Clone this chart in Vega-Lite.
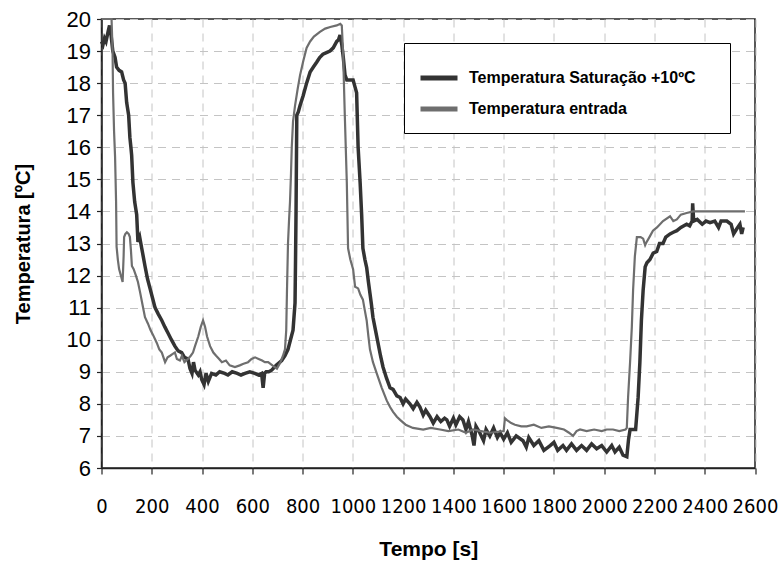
{
  "$schema": "https://vega.github.io/schema/vega-lite/v6.json",
  "width": 653.5,
  "height": 449,
  "autosize": {"type": "none"},
  "padding": {"left": 101.5, "top": 19, "right": 27, "bottom": 97},
  "background": "white",
  "config": {
    "view": {"stroke": "#222222", "strokeWidth": 1.5},
    "font": "Liberation Sans"
  },
  "datasets": {
    "sat": [
      {"t":0,"v":19.3},{"t":6,"v":19.2},{"t":12,"v":19.4},{"t":18,"v":19.3},{"t":26,"v":19.6},{"t":32,"v":19.8},{"t":38,"v":19.5},{"t":45,"v":19.0},{"t":54,"v":18.8},{"t":60,"v":18.5},{"t":70,"v":18.4},{"t":80,"v":18.35},{"t":88,"v":18.1},{"t":94,"v":18.0},{"t":100,"v":17.4},{"t":108,"v":17.0},{"t":113,"v":16.3},{"t":117,"v":16.0},{"t":120,"v":15.75},{"t":125,"v":14.9},{"t":132,"v":14.3},{"t":140,"v":13.9},{"t":145,"v":13.05},{"t":152,"v":13.2},{"t":160,"v":12.85},{"t":166,"v":12.6},{"t":173,"v":12.3},{"t":183,"v":11.9},{"t":193,"v":11.6},{"t":203,"v":11.3},{"t":213,"v":11.0},{"t":226,"v":10.8},{"t":240,"v":10.6},{"t":252,"v":10.4},{"t":265,"v":10.2},{"t":278,"v":10.0},{"t":292,"v":9.8},{"t":305,"v":9.65},{"t":319,"v":9.6},{"t":330,"v":9.45},{"t":344,"v":9.4},{"t":352,"v":9.1},{"t":360,"v":8.95},{"t":366,"v":9.3},{"t":372,"v":9.05},{"t":385,"v":8.9},{"t":392,"v":9.0},{"t":399,"v":8.75},{"t":408,"v":8.6},{"t":416,"v":8.95},{"t":425,"v":8.7},{"t":438,"v":8.95},{"t":455,"v":8.9},{"t":470,"v":9.0},{"t":490,"v":8.95},{"t":503,"v":8.9},{"t":520,"v":9.0},{"t":540,"v":8.95},{"t":555,"v":8.9},{"t":571,"v":8.95},{"t":590,"v":9.0},{"t":610,"v":8.95},{"t":625,"v":8.9},{"t":637,"v":8.95},{"t":643,"v":8.5},{"t":649,"v":8.95},{"t":655,"v":9.0},{"t":665,"v":9.0},{"t":677,"v":9.05},{"t":695,"v":9.2},{"t":717,"v":9.35},{"t":730,"v":9.5},{"t":742,"v":9.7},{"t":752,"v":10.0},{"t":762,"v":10.3},{"t":770,"v":11.15},{"t":772,"v":12.5},{"t":774,"v":14.0},{"t":777,"v":17.0},{"t":783,"v":17.1},{"t":790,"v":17.3},{"t":802,"v":17.6},{"t":816,"v":18.0},{"t":830,"v":18.35},{"t":843,"v":18.5},{"t":856,"v":18.65},{"t":868,"v":18.8},{"t":881,"v":18.9},{"t":895,"v":18.95},{"t":909,"v":19.0},{"t":922,"v":19.1},{"t":936,"v":19.3},{"t":943,"v":19.35},{"t":949,"v":19.5},{"t":956,"v":19.2},{"t":962,"v":18.8},{"t":969,"v":18.25},{"t":976,"v":18.1},{"t":990,"v":18.1},{"t":1001,"v":18.1},{"t":1008,"v":17.9},{"t":1015,"v":17.7},{"t":1021,"v":16.0},{"t":1029,"v":14.9},{"t":1035,"v":13.9},{"t":1040,"v":12.85},{"t":1048,"v":12.5},{"t":1055,"v":12.25},{"t":1062,"v":11.8},{"t":1068,"v":11.45},{"t":1074,"v":11.1},{"t":1080,"v":10.7},{"t":1090,"v":10.3},{"t":1100,"v":9.9},{"t":1110,"v":9.5},{"t":1120,"v":9.15},{"t":1134,"v":8.8},{"t":1148,"v":8.5},{"t":1160,"v":8.45},{"t":1175,"v":8.25},{"t":1188,"v":8.2},{"t":1200,"v":8.0},{"t":1210,"v":8.15},{"t":1227,"v":8.0},{"t":1240,"v":7.85},{"t":1255,"v":8.05},{"t":1267,"v":7.9},{"t":1280,"v":7.65},{"t":1290,"v":7.8},{"t":1307,"v":7.6},{"t":1320,"v":7.4},{"t":1335,"v":7.6},{"t":1350,"v":7.45},{"t":1365,"v":7.55},{"t":1374,"v":7.5},{"t":1385,"v":7.3},{"t":1400,"v":7.55},{"t":1410,"v":7.35},{"t":1425,"v":7.6},{"t":1438,"v":7.5},{"t":1450,"v":7.2},{"t":1460,"v":7.45},{"t":1475,"v":7.0},{"t":1482,"v":6.7},{"t":1490,"v":7.3},{"t":1505,"v":7.1},{"t":1520,"v":6.85},{"t":1530,"v":7.2},{"t":1545,"v":7.0},{"t":1560,"v":7.25},{"t":1575,"v":6.95},{"t":1586,"v":7.1},{"t":1600,"v":6.9},{"t":1615,"v":7.1},{"t":1630,"v":6.8},{"t":1650,"v":7.0},{"t":1677,"v":6.85},{"t":1690,"v":6.65},{"t":1700,"v":6.95},{"t":1720,"v":6.7},{"t":1740,"v":6.85},{"t":1760,"v":6.55},{"t":1785,"v":6.7},{"t":1800,"v":6.8},{"t":1815,"v":6.55},{"t":1836,"v":6.7},{"t":1850,"v":6.55},{"t":1870,"v":6.75},{"t":1890,"v":6.55},{"t":1910,"v":6.7},{"t":1930,"v":6.55},{"t":1950,"v":6.75},{"t":1970,"v":6.6},{"t":1990,"v":6.7},{"t":2010,"v":6.5},{"t":2030,"v":6.7},{"t":2043,"v":6.5},{"t":2060,"v":6.65},{"t":2075,"v":6.4},{"t":2090,"v":6.35},{"t":2097,"v":6.9},{"t":2103,"v":7.2},{"t":2125,"v":7.2},{"t":2135,"v":8.2},{"t":2142,"v":9.3},{"t":2148,"v":10.6},{"t":2155,"v":11.55},{"t":2163,"v":12.27},{"t":2170,"v":12.4},{"t":2182,"v":12.5},{"t":2195,"v":12.7},{"t":2209,"v":12.75},{"t":2220,"v":13.0},{"t":2234,"v":13.0},{"t":2245,"v":13.2},{"t":2262,"v":13.3},{"t":2275,"v":13.35},{"t":2289,"v":13.4},{"t":2305,"v":13.5},{"t":2328,"v":13.6},{"t":2340,"v":13.55},{"t":2350,"v":13.7},{"t":2352,"v":14.25},{"t":2356,"v":13.7},{"t":2370,"v":13.75},{"t":2390,"v":13.6},{"t":2405,"v":13.7},{"t":2421,"v":13.65},{"t":2440,"v":13.7},{"t":2455,"v":13.5},{"t":2465,"v":13.7},{"t":2488,"v":13.7},{"t":2505,"v":13.6},{"t":2515,"v":13.3},{"t":2527,"v":13.45},{"t":2540,"v":13.6},{"t":2547,"v":13.3},{"t":2553,"v":13.5}
    ],
    "ent": [
      {"t":0,"v":20.0},{"t":20,"v":20.0},{"t":40,"v":20.0},{"t":44,"v":19.0},{"t":46,"v":17.7},{"t":50,"v":16.5},{"t":54,"v":15.7},{"t":58,"v":14.3},{"t":60,"v":12.9},{"t":65,"v":12.5},{"t":70,"v":12.2},{"t":77,"v":12.0},{"t":84,"v":11.8},{"t":86,"v":12.2},{"t":88,"v":12.6},{"t":90,"v":13.2},{"t":95,"v":13.3},{"t":101,"v":13.35},{"t":108,"v":13.3},{"t":113,"v":13.2},{"t":117,"v":12.8},{"t":121,"v":12.3},{"t":128,"v":12.2},{"t":137,"v":12.0},{"t":145,"v":11.8},{"t":153,"v":11.5},{"t":163,"v":11.1},{"t":173,"v":10.7},{"t":185,"v":10.5},{"t":195,"v":10.3},{"t":205,"v":10.15},{"t":220,"v":9.9},{"t":230,"v":9.7},{"t":240,"v":9.6},{"t":253,"v":9.3},{"t":263,"v":9.45},{"t":273,"v":9.5},{"t":282,"v":9.55},{"t":292,"v":9.6},{"t":300,"v":9.4},{"t":312,"v":9.35},{"t":320,"v":9.5},{"t":330,"v":9.3},{"t":344,"v":9.4},{"t":355,"v":9.5},{"t":364,"v":9.6},{"t":372,"v":9.8},{"t":385,"v":10.1},{"t":395,"v":10.4},{"t":404,"v":10.6},{"t":412,"v":10.4},{"t":420,"v":10.1},{"t":432,"v":9.8},{"t":445,"v":9.6},{"t":456,"v":9.5},{"t":468,"v":9.4},{"t":479,"v":9.3},{"t":495,"v":9.35},{"t":510,"v":9.2},{"t":531,"v":9.15},{"t":550,"v":9.2},{"t":565,"v":9.25},{"t":583,"v":9.3},{"t":597,"v":9.4},{"t":611,"v":9.45},{"t":625,"v":9.4},{"t":639,"v":9.35},{"t":650,"v":9.3},{"t":663,"v":9.3},{"t":680,"v":9.2},{"t":698,"v":9.1},{"t":712,"v":9.3},{"t":722,"v":9.5},{"t":730,"v":9.7},{"t":735,"v":10.3},{"t":738,"v":11.55},{"t":742,"v":13.0},{"t":746,"v":13.7},{"t":750,"v":14.3},{"t":754,"v":15.2},{"t":757,"v":16.0},{"t":762,"v":16.8},{"t":770,"v":17.3},{"t":780,"v":17.8},{"t":790,"v":18.25},{"t":803,"v":18.7},{"t":816,"v":19.1},{"t":830,"v":19.3},{"t":845,"v":19.45},{"t":869,"v":19.6},{"t":890,"v":19.7},{"t":910,"v":19.75},{"t":936,"v":19.8},{"t":950,"v":19.85},{"t":956,"v":19.8},{"t":961,"v":19.0},{"t":968,"v":17.0},{"t":976,"v":14.9},{"t":981,"v":12.85},{"t":990,"v":12.5},{"t":1001,"v":12.2},{"t":1009,"v":11.65},{"t":1021,"v":11.6},{"t":1030,"v":11.4},{"t":1040,"v":11.25},{"t":1048,"v":10.9},{"t":1055,"v":10.6},{"t":1062,"v":10.1},{"t":1068,"v":9.7},{"t":1080,"v":9.3},{"t":1095,"v":8.95},{"t":1115,"v":8.5},{"t":1135,"v":8.1},{"t":1148,"v":7.9},{"t":1160,"v":7.75},{"t":1175,"v":7.6},{"t":1188,"v":7.5},{"t":1210,"v":7.35},{"t":1239,"v":7.25},{"t":1280,"v":7.2},{"t":1310,"v":7.25},{"t":1347,"v":7.2},{"t":1380,"v":7.15},{"t":1420,"v":7.2},{"t":1450,"v":7.1},{"t":1478,"v":7.2},{"t":1510,"v":7.15},{"t":1546,"v":7.1},{"t":1600,"v":7.15},{"t":1605,"v":7.55},{"t":1612,"v":7.5},{"t":1630,"v":7.4},{"t":1645,"v":7.35},{"t":1670,"v":7.3},{"t":1692,"v":7.3},{"t":1720,"v":7.35},{"t":1750,"v":7.25},{"t":1780,"v":7.3},{"t":1811,"v":7.25},{"t":1840,"v":7.2},{"t":1860,"v":7.1},{"t":1876,"v":7.0},{"t":1890,"v":7.15},{"t":1904,"v":7.2},{"t":1930,"v":7.15},{"t":1960,"v":7.2},{"t":1990,"v":7.15},{"t":2010,"v":7.2},{"t":2035,"v":7.2},{"t":2060,"v":7.15},{"t":2085,"v":7.2},{"t":2090,"v":7.25},{"t":2095,"v":8.2},{"t":2103,"v":9.3},{"t":2110,"v":10.4},{"t":2115,"v":11.55},{"t":2122,"v":12.6},{"t":2130,"v":13.2},{"t":2145,"v":13.2},{"t":2155,"v":13.15},{"t":2163,"v":12.95},{"t":2169,"v":13.05},{"t":2180,"v":13.2},{"t":2194,"v":13.4},{"t":2210,"v":13.5},{"t":2234,"v":13.7},{"t":2262,"v":13.85},{"t":2275,"v":13.7},{"t":2289,"v":13.75},{"t":2305,"v":13.9},{"t":2328,"v":13.95},{"t":2354,"v":14.0},{"t":2400,"v":14.0},{"t":2450,"v":14.0},{"t":2500,"v":14.0},{"t":2560,"v":14.0}
    ]
  },
  "encoding": {
    "x": {
      "field": "t", "type": "quantitative", "title": "Tempo [s]",
      "scale": {"domain": [0, 2600], "nice": false},
      "axis": {
        "values": [0,200,400,600,800,1000,1200,1400,1600,1800,2000,2200,2400,2600],
        "format": "d",
        "grid": true, "gridDash": [8, 6], "gridColor": "#c4c4c4", "gridWidth": 1,
        "domainColor": "#222222", "domainWidth": 1.5, "tickColor": "#222222", "tickSize": 6, "tickWidth": 1.2,
        "labelFont": "'DejaVu Sans Condensed', 'Liberation Sans', sans-serif", "labelFontSize": 20, "labelColor": "black", "labelPadding": 22,
        "labelOverlap": false, "labelFlush": false,
        "titleFont": "Liberation Sans", "titleFontSize": 21, "titleFontWeight": "bold", "titleColor": "black",
        "titleY": 87, "titleBaseline": "alphabetic"
      }
    },
    "y": {
      "field": "v", "type": "quantitative", "title": "Temperatura [ºC]",
      "scale": {"domain": [6, 20], "nice": false, "zero": false},
      "axis": {
        "values": [6,7,8,9,10,11,12,13,14,15,16,17,18,19,20],
        "grid": true, "gridDash": [8, 6], "gridColor": "#c4c4c4", "gridWidth": 1,
        "domainColor": "#222222", "domainWidth": 1.5, "tickColor": "#222222", "tickSize": 5, "tickWidth": 1.2,
        "labelFont": "Liberation Sans", "labelFontSize": 22, "labelColor": "black", "labelPadding": 6,
        "labelOverlap": false, "labelFlush": false,
        "titleFont": "Liberation Sans", "titleFontSize": 20, "titleFontWeight": "bold", "titleColor": "black",
        "titleX": -72.5, "titleY": 224.5, "titleAngle": -90, "titleAlign": "center", "titleBaseline": "alphabetic"
      }
    }
  },
  "layer": [
    {
      "data": {"name": "sat"},
      "mark": {"type": "line", "strokeWidth": 3.5, "strokeJoin": "miter"},
      "encoding": {
        "color": {
          "datum": "Temperatura Saturação +10ºC", "type": "nominal",
          "scale": {"domain": ["Temperatura Saturação +10ºC", "Temperatura entrada"], "range": ["#333333", "#6e6e6e"]},
          "legend": {
            "orient": "none", "legendX": 302.5, "legendY": 24,
            "title": "\u00a0\u00a0\u00a0\u00a0\u00a0\u00a0\u00a0\u00a0\u00a0\u00a0", "titleOrient": "right", "titlePadding": 20, "titleFontSize": 16,
            "symbolType": "stroke", "symbolSize": 1369, "symbolStrokeWidth": 5,
            "labelFont": "Liberation Sans", "labelFontSize": 16, "labelFontWeight": "bold", "labelColor": "black",
            "labelOffset": 9, "labelLimit": 400,
            "strokeColor": "black", "fillColor": "white", "padding": 14, "rowPadding": 0
          }
        }
      }
    },
    {
      "data": {"name": "ent"},
      "mark": {"type": "line", "strokeWidth": 2.2},
      "encoding": {
        "color": {"datum": "Temperatura entrada", "type": "nominal"}
      }
    }
  ]
}
